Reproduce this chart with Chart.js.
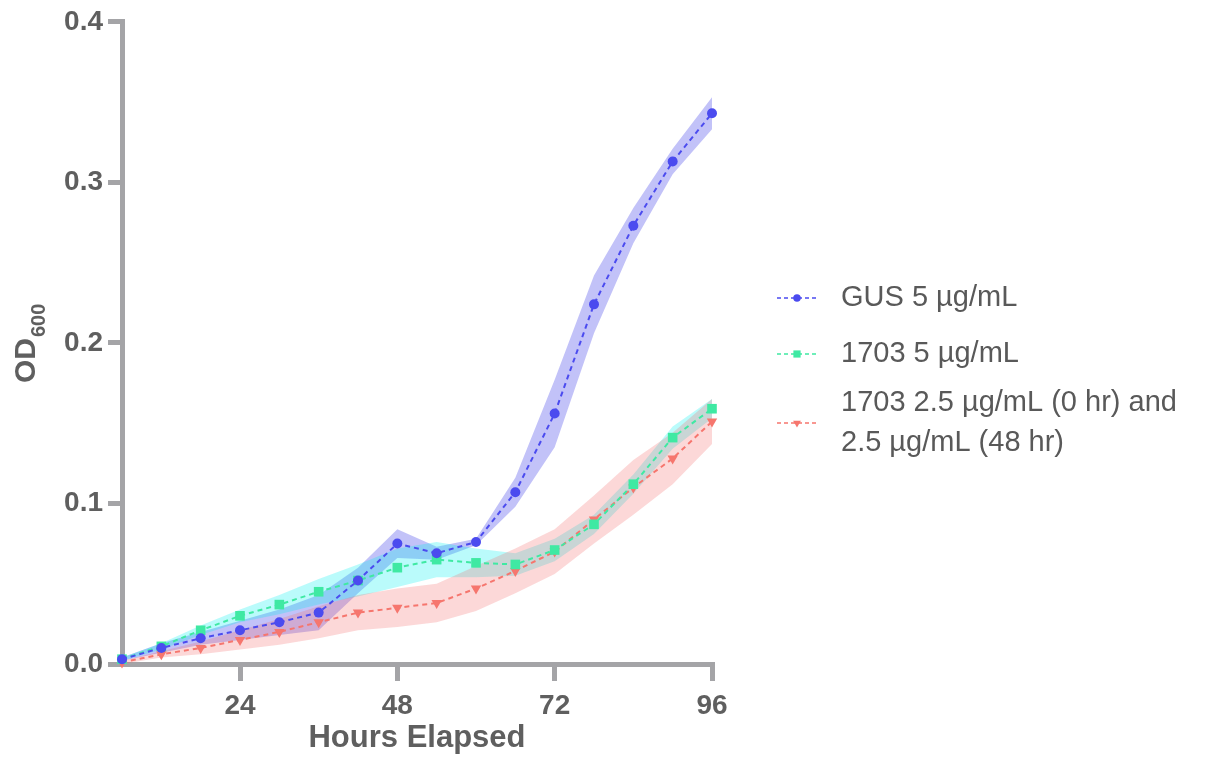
<!DOCTYPE html>
<html>
<head>
<meta charset="utf-8">
<script src="https://cdn.jsdelivr.net/npm/chart.js@4"></script>
<style>
  html, body { margin: 0; padding: 0; background: #fff; }
  #wrap { width: 1211px; height: 757px; }
</style>
</head>
<body>
<div id="wrap"><canvas id="chart"></canvas></div>
<script>
// hours elapsed
const hours = [6, 12, 18, 24, 30, 36, 42, 48, 54, 60, 66, 72, 78, 84, 90, 96];
const xTicks = [24, 48, 72, 96];

// mean OD600 per series
const gusMean  = [0.003, 0.010, 0.016, 0.021, 0.026, 0.032, 0.052, 0.075, 0.069, 0.076, 0.107, 0.156, 0.224, 0.273, 0.313, 0.343];
const g1703Mean = [0.003, 0.011, 0.021, 0.030, 0.037, 0.045, 0.052, 0.060, 0.065, 0.063, 0.062, 0.071, 0.087, 0.112, 0.141, 0.159];
const splitMean = [0.001, 0.006, 0.010, 0.015, 0.020, 0.026, 0.032, 0.035, 0.038, 0.047, 0.058, 0.070, 0.090, 0.110, 0.128, 0.151];

// spread (shaded band half-width)
const gusSd   = [0.001, 0.003, 0.004, 0.006, 0.008, 0.011, 0.008, 0.009, 0.004, 0.002, 0.009, 0.021, 0.018, 0.011, 0.008, 0.010];
const g1703Sd  = [0.001, 0.002, 0.003, 0.004, 0.006, 0.008, 0.010, 0.012, 0.011, 0.009, 0.007, 0.007, 0.006, 0.006, 0.007, 0.006];
const splitSd  = [0.001, 0.002, 0.004, 0.006, 0.008, 0.010, 0.011, 0.012, 0.012, 0.014, 0.014, 0.014, 0.015, 0.017, 0.016, 0.014];

const seriesNames = [
  ["GUS 5 µg/mL"],
  ["1703 5 µg/mL"],
  ["1703 2.5 µg/mL (0 hr) and", "2.5 µg/mL (48 hr)"]
];

const axisColor = "#a4a4a7";
const textColor = "#5f5f5f";

const series = [
  { mean: gusMean, sd: gusSd, line: "#4b4bef", band: "rgba(80,80,235,0.35)", style: "circle", radius: 5, rot: 0, order: 1 },
  { mean: g1703Mean, sd: g1703Sd, line: "#3fe9a3", band: "rgba(0,240,240,0.27)", style: "rect", radius: 6.8, rot: 0, order: 2 },
  { mean: splitMean, sd: splitSd, line: "#f6766e", band: "rgba(245,100,100,0.25)", style: "triangle", radius: 6, rot: 180, order: 3 }
];

const pts = arr => arr.map((v, i) => ({ x: hours[i], y: v }));

const datasets = [];
series.forEach((s, k) => {
  datasets.push({
    label: seriesNames[k].join(" "),
    data: pts(s.mean),
    borderColor: s.line,
    backgroundColor: s.line,
    borderWidth: 2,
    borderDash: [5, 4],
    pointStyle: s.style,
    pointRotation: s.rot,
    pointRadius: s.radius,
    pointBorderWidth: 0,
    fill: false,
    clip: false,
    order: s.order
  });
});
// bands: upper fills down to lower
series.forEach((s, k) => {
  datasets.push({
    label: "band-hi-" + k,
    data: pts(s.mean.map((v, i) => v + s.sd[i])),
    borderWidth: 0,
    pointRadius: 0,
    backgroundColor: s.band,
    fill: "+1",
    order: 10 - k * 2
  });
  datasets.push({
    label: "band-lo-" + k,
    data: pts(s.mean.map((v, i) => Math.max(0, v - s.sd[i]))),
    borderWidth: 0,
    pointRadius: 0,
    fill: false,
    order: 11 - k * 2
  });
});

// y title with subscript
const yTitle = {
  id: "yTitle",
  afterDraw(chart) {
    const ctx = chart.ctx;
    ctx.save();
    ctx.fillStyle = textColor;
    ctx.translate(35, 383);
    ctx.rotate(-Math.PI / 2);
    ctx.textBaseline = "alphabetic";
    ctx.font = "bold 30px 'Liberation Sans', Arial, sans-serif";
    ctx.fillText("OD", 0, 0);
    const w = ctx.measureText("OD").width;
    ctx.font = "bold 20px 'Liberation Sans', Arial, sans-serif";
    ctx.fillText("600", w + 1, 10);
    ctx.restore();
  }
};

// legend on the right
const sideLegend = {
  id: "sideLegend",
  afterDraw(chart) {
    const ctx = chart.ctx;
    const rows = [298, 354, 423];
    ctx.save();
    series.forEach((s, k) => {
      const y = rows[k];
      ctx.strokeStyle = s.line;
      ctx.lineWidth = 1.5;
      ctx.setLineDash([4, 3]);
      ctx.beginPath();
      ctx.moveTo(777, y);
      ctx.lineTo(816, y);
      ctx.stroke();
      ctx.setLineDash([]);
      ctx.fillStyle = s.line;
      Chart.helpers.drawPoint(ctx, {
        pointStyle: s.style, radius: s.radius * 0.75, rotation: s.rot, borderWidth: 0
      }, 797, y);
      ctx.fillStyle = "#595959";
      ctx.font = "29px 'Liberation Sans', Arial, sans-serif";
      ctx.textBaseline = "middle";
      const lines = seriesNames[k];
      const off = (lines.length - 1) * 20;
      lines.forEach((t, j) => ctx.fillText(t, 841, y - off + j * 40));
    });
    ctx.restore();
  }
};

const ctx = document.getElementById("chart");
const chart = new Chart(ctx, {
  type: "line",
  data: { datasets },
  plugins: [yTitle, sideLegend],
  options: {
    responsive: true,
    maintainAspectRatio: false,
    animation: false,
    layout: { padding: { left: 0, right: 499, top: 20, bottom: 0 } },
    plugins: {
      legend: { display: false },
      tooltip: { enabled: false }
    },
    scales: {
      x: {
        type: "linear",
        min: 6,
        max: 96,
        afterBuildTicks: scale => { scale.ticks = xTicks.map(v => ({ value: v })); },
        afterFit: scale => { scale.height = 93; },
        border: { color: axisColor, width: 5 },
        grid: { drawOnChartArea: false, drawTicks: true, tickLength: 17, lineWidth: 5, tickWidth: 5, tickColor: axisColor },
        ticks: {
          color: textColor,
          padding: 8,
          maxRotation: 0,
          font: { family: "'Liberation Sans', Arial, sans-serif", size: 28, weight: "bold" },
          callback: v => v
        },
        title: {
          display: true,
          text: "Hours Elapsed",
          color: textColor,
          padding: { top: 0, bottom: 0 },
          font: { family: "'Liberation Sans', Arial, sans-serif", size: 31, weight: "bold" }
        }
      },
      y: {
        min: 0,
        max: 0.4,
        afterFit: scale => { scale.width = 122; },
        border: { color: axisColor, width: 5 },
        grid: { drawOnChartArea: false, drawTicks: true, tickLength: 14, lineWidth: 5, tickWidth: 5, tickColor: axisColor },
        ticks: {
          stepSize: 0.1,
          color: textColor,
          padding: 5,
          font: { family: "'Liberation Sans', Arial, sans-serif", size: 28, weight: "bold" },
          callback: v => v.toFixed(1)
        }
      }
    }
  }
});
</script>
</body>
</html>
